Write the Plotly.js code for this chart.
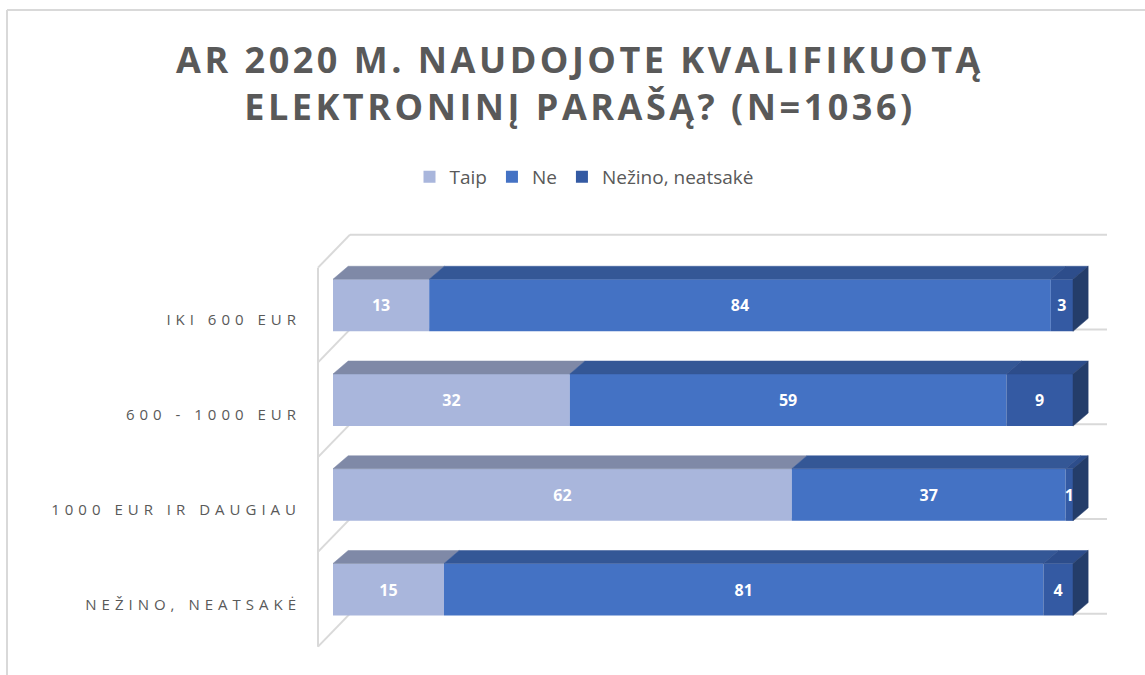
<!DOCTYPE html>
<html><head><meta charset="utf-8">
<script src="https://cdn.plot.ly/plotly-3.0.1.min.js"></script>
<style>body{margin:0;background:#fff}</style>
</head><body>
<div id="chart" style="width:1145px;height:675px"></div>
<script>
// ---- data ----
const categories = ["IKI 600 EUR", "600 - 1000 EUR", "1000 EUR IR DAUGIAU", "NEŽINO, NEATSAKĖ"];
const seriesNames = ["Taip", "Ne", "Nežino, neatsakė"];
const taip = [13, 32, 62, 15];
const ne = [84, 59, 37, 81];
const nezino = [3, 9, 1, 4];
const titleText = "AR 2020 M. NAUDOJOTE KVALIFIKUOTĄ<br>ELEKTRONINĮ PARAŠĄ? (N=1036)";

// ---- styles ----
const values = [taip, ne, nezino];
const frontColors = ["#A9B6DC", "#4472C4", "#345AA3"];
const topColors = ["#7F89A7", "#345796", "#2D4D8B"];
const sideColors = ["#7A83A0", "#2B4A85", "#243D6A"];
const W = 1145, H = 675, ML = 316, MR = 38, MT = 232, MB = 26;
const X0PX = 333, PXU = 7.4, Y0PX = 599.3, PXC = 94.75;
const xr = [(ML - X0PX) / PXU, (W - MR - X0PX) / PXU];
const yr = [(Y0PX - (H - MB)) / PXC, (Y0PX - MT) / PXC];
const BAR_W = 0.55, BAR_OFF = -0.172;
const DX = 2.05, DY = 0.137;        // bar depth
const WDX = 32 / PXU, WDY = 33 / PXC; // wall depth
const wallColor = "#D9D9D9";
const textGrey = "#595959";

const n = categories.length;
const pos = categories.map((c, i) => n - 1 - i);

// cumulative starts
const starts = values.map((arr, s) => arr.map((v, i) => {
  let acc = 0; for (let k = 0; k < s; k++) acc += values[k][i]; return acc;
}));

const traces = [];
values.forEach((arr, s) => {
  traces.push({
    type: "bar", orientation: "h", name: seriesNames[s],
    y: pos, x: arr, base: starts[s],
    width: BAR_W, offset: BAR_OFF,
    marker: {color: frontColors[s], line: {width: 0}},
    text: arr.map(String), texttemplate: "<b>%{text}</b>",
    textposition: "inside", insidetextanchor: "middle", textangle: 0,
    constraintext: "none",
    textfont: {family: "Open Sans", size: 16, color: "#FFFFFF"},
    hoverinfo: "skip", cliponaxis: false
  });
});
// top faces
values.forEach((arr, s) => {
  const xs = [], ys = [];
  arr.forEach((v, i) => {
    const L = starts[s][i], R = L + v, y1 = pos[i] + BAR_OFF + BAR_W;
    xs.push(L, R, R + DX, L + DX, L, null);
    ys.push(y1, y1, y1 + DY, y1 + DY, y1, null);
  });
  traces.push({type: "scatter", mode: "lines", x: xs, y: ys, fill: "toself",
    fillcolor: topColors[s], line: {width: 0.5, color: topColors[s]},
    showlegend: false, hoverinfo: "skip", cliponaxis: false});
});
// right side faces (end of last segment)
{
  const s = values.length - 1;
  const xs = [], ys = [];
  pos.forEach((p, i) => {
    const R = starts[s][i] + values[s][i];
    const y0 = p + BAR_OFF, y1 = y0 + BAR_W;
    xs.push(R, R, R + DX, R + DX, R, null);
    ys.push(y0, y1, y1 + DY, y0 + DY, y0, null);
  });
  traces.push({type: "scatter", mode: "lines", x: xs, y: ys, fill: "toself",
    fillcolor: sideColors[s], line: {width: 0.5, color: sideColors[s]},
    showlegend: false, hoverinfo: "skip", cliponaxis: false});
}

// walls
const shapes = [];
const wx = xr[0] + 2 / PXU;
const bounds = pos.map(p => p - 0.5).concat([pos[0] + 0.5]);
shapes.push({type: "line", xref: "x", yref: "y", x0: wx, x1: wx,
  y0: Math.min(...bounds), y1: Math.max(...bounds), layer: "below",
  line: {color: wallColor, width: 2}});
bounds.forEach(b => {
  shapes.push({type: "line", xref: "x", yref: "y", x0: wx, x1: wx + WDX,
    y0: b, y1: b + WDY, layer: "below", line: {color: wallColor, width: 2}});
  shapes.push({type: "line", xref: "x", yref: "y", x0: wx + WDX, x1: xr[1],
    y0: b + WDY, y1: b + WDY, layer: "below", line: {color: wallColor, width: 2}});
});
// chart border
const pw = W - ML - MR, ph = H - MT - MB;
const px2p = px => (px - ML) / pw, py2p = py => (H - MB - py) / ph;
shapes.push({type: "line", xref: "paper", yref: "paper", x0: px2p(7), x1: px2p(W),
  y0: py2p(10), y1: py2p(10), line: {color: wallColor, width: 2}});
shapes.push({type: "line", xref: "paper", yref: "paper", x0: px2p(7), x1: px2p(7),
  y0: py2p(10), y1: py2p(H), line: {color: wallColor, width: 2}});

const layout = {
  width: W, height: H,
  margin: {l: ML, r: MR, t: MT, b: MB, pad: 0},
  paper_bgcolor: "#FFFFFF", plot_bgcolor: "rgba(0,0,0,0)",
  barmode: "overlay",
  showlegend: true,
  title: {text: titleText, x: 580 / W, xanchor: "center",
    y: 1 - 73 / H, yanchor: "top", yref: "container",
    font: {family: "Open Sans", size: 36, color: textGrey, weight: "bold"}},
  legend: {orientation: "h", x: px2p(584), xanchor: "center", y: py2p(177), yanchor: "middle",
    font: {family: "Open Sans", size: 19, color: textGrey}, itemgap: 4,
    bgcolor: "rgba(0,0,0,0)"},
  xaxis: {range: xr, visible: false, fixedrange: true},
  yaxis: {range: yr, tickvals: pos, ticktext: categories, showgrid: false,
    zeroline: false, showline: false, ticks: "", ticklabelstandoff: 14, ticklabelshift: 5,
    tickfont: {family: "Open Sans", size: 15, color: textGrey}, fixedrange: true},
  shapes: shapes
};

Plotly.newPlot("chart", traces, layout, {displayModeBar: false, staticPlot: true}).then(() => {
  document.querySelectorAll(".ytick text").forEach(t => t.setAttribute("letter-spacing", "5px"));
  document.querySelectorAll(".gtitle").forEach(t => t.setAttribute("letter-spacing", "3.5px"));
});
</script>
</body></html>
